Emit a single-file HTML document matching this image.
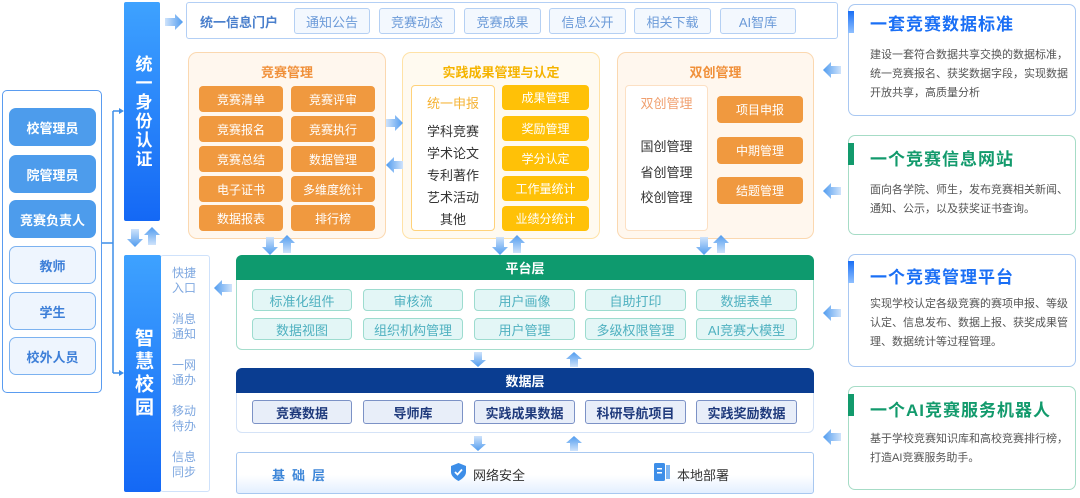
<!DOCTYPE html>
<html><head><meta charset="utf-8">
<style>
*{margin:0;padding:0;box-sizing:border-box}
body{width:1080px;height:498px;background:#fff;position:relative;overflow:hidden;font-family:"Liberation Sans","Noto Sans CJK SC",sans-serif}
.a{position:absolute}
.c{display:flex;align-items:center;justify-content:center;text-align:center}
.ub{border-radius:7px;font-size:13px;font-weight:bold}
.ob{background:#f0993f;color:#fff;border-radius:4px;font-size:12px}
.yb{background:#ffc107;color:#fff;border-radius:4px;font-size:12px}
.tab{border:1px solid #b5d0f3;background:#f3f8fe;color:#6b9ad8;border-radius:3px;font-size:13px}
.pl{border:1px solid #9ddccf;background:#e3f6f6;color:#4fb1c0;border-radius:4px;font-size:13px}
.dl{border:1px solid #7c92c6;background:#e8eef9;color:#1f3a7c;border-radius:3px;font-size:13px;font-weight:bold}
.card{border-radius:7px;background:#fff}
.ct{font-size:17px;font-weight:bold;letter-spacing:1px}
.cb{font-size:11px;color:#555;line-height:19px}
.bar{width:6px;height:22px}
</style></head><body>

<!-- left users panel -->
<div class="a" style="left:2px;top:90px;width:100px;height:303px;border:1.5px solid #5a9cf0;border-radius:5px"></div>
<div class="a c ub" style="left:9px;top:108px;width:87px;height:38px;background:#4d9cec;color:#fff">校管理员</div>
<div class="a c ub" style="left:9px;top:155px;width:87px;height:38px;background:#4d9cec;color:#fff">院管理员</div>
<div class="a c ub" style="left:9px;top:200px;width:87px;height:38px;background:#4d9cec;color:#fff">竞赛负责人</div>
<div class="a c ub" style="left:9px;top:246px;width:87px;height:38px;background:#eef5fe;border:1.5px solid #7cb2f0;color:#3d7fd8">教师</div>
<div class="a c ub" style="left:9px;top:292px;width:87px;height:38px;background:#eef5fe;border:1.5px solid #7cb2f0;color:#3d7fd8">学生</div>
<div class="a c ub" style="left:9px;top:337px;width:87px;height:38px;background:#eef5fe;border:1.5px solid #7cb2f0;color:#3d7fd8">校外人员</div>

<!-- identity -->
<div class="a c" style="left:124px;top:2px;width:36px;height:219px;background:linear-gradient(#3ea2ff,#1468f5);border-radius:2px;color:#fff;font-size:17px;font-weight:bold;writing-mode:vertical-rl;letter-spacing:2px">统一身份认证</div>
<!-- smart campus -->
<div class="a" style="left:160px;top:255px;width:50px;height:237px;border:1px solid #cfe2fb;border-radius:3px;background:#fff"></div>
<div class="a c" style="left:124px;top:255px;width:37px;height:237px;background:linear-gradient(#3ea2ff,#1468f5);border-radius:2px;color:#fff;font-size:19px;font-weight:bold;writing-mode:vertical-rl;letter-spacing:4px">智慧校园</div>
<div class="a" style="left:172px;top:266px;font-size:12px;color:#7fa8e0;line-height:15px;width:30px">快捷入口</div>
<div class="a" style="left:172px;top:312px;font-size:12px;color:#7fa8e0;line-height:15px;width:30px">消息通知</div>
<div class="a" style="left:172px;top:358px;font-size:12px;color:#7fa8e0;line-height:15px;width:30px">一网通办</div>
<div class="a" style="left:172px;top:404px;font-size:12px;color:#7fa8e0;line-height:15px;width:30px">移动待办</div>
<div class="a" style="left:172px;top:450px;font-size:12px;color:#7fa8e0;line-height:15px;width:30px">信息同步</div>

<!-- portal -->
<div class="a" style="left:186px;top:2px;width:652px;height:37px;border:1.5px solid #b3cff5;border-radius:3px"></div>
<div class="a" style="left:200px;top:12px;font-size:13px;font-weight:bold;color:#4a7fcc">统一信息门户</div>
<div class="a c tab" style="left:294px;top:8px;width:76px;height:26px">通知公告</div>
<div class="a c tab" style="left:379px;top:8px;width:76px;height:26px">竞赛动态</div>
<div class="a c tab" style="left:464px;top:8px;width:77px;height:26px">竞赛成果</div>
<div class="a c tab" style="left:549px;top:8px;width:77px;height:26px">信息公开</div>
<div class="a c tab" style="left:634px;top:8px;width:77px;height:26px">相关下载</div>
<div class="a c tab" style="left:720px;top:8px;width:76px;height:26px">AI智库</div>

<!-- 竞赛管理 -->
<div class="a" style="left:188px;top:52px;width:198px;height:187px;background:#fff7ee;border:1.5px solid #fbd8b0;border-radius:9px"></div>
<div class="a c" style="left:188px;top:62px;width:198px;font-size:13px;font-weight:bold;color:#f0903a">竞赛管理</div>
<div class="a c ob" style="left:199px;top:86px;width:84px;height:26px">竞赛清单</div>
<div class="a c ob" style="left:291px;top:86px;width:84px;height:26px">竞赛评审</div>
<div class="a c ob" style="left:199px;top:116px;width:84px;height:26px">竞赛报名</div>
<div class="a c ob" style="left:291px;top:116px;width:84px;height:26px">竞赛执行</div>
<div class="a c ob" style="left:199px;top:146px;width:84px;height:26px">竞赛总结</div>
<div class="a c ob" style="left:291px;top:146px;width:84px;height:26px">数据管理</div>
<div class="a c ob" style="left:199px;top:176px;width:84px;height:26px">电子证书</div>
<div class="a c ob" style="left:291px;top:176px;width:84px;height:26px">多维度统计</div>
<div class="a c ob" style="left:199px;top:205px;width:84px;height:26px">数据报表</div>
<div class="a c ob" style="left:291px;top:205px;width:84px;height:26px">排行榜</div>

<!-- 实践成果 -->
<div class="a" style="left:402px;top:52px;width:198px;height:187px;background:#fffaf0;border:1.5px solid #ffe2a6;border-radius:9px"></div>
<div class="a c" style="left:402px;top:62px;width:198px;font-size:13px;font-weight:bold;color:#f5b400">实践成果管理与认定</div>
<div class="a" style="left:411px;top:85px;width:84px;height:146px;background:#fff;border:1.5px solid #ffd27a;border-radius:4px"></div>
<div class="a c" style="left:411px;top:93px;width:84px;font-size:13px;color:#f5b335">统一申报</div>
<div class="a c" style="left:411px;top:121px;width:84px;font-size:13px;color:#333;line-height:22px;flex-direction:column">学科竞赛<br>学术论文<br>专利著作<br>艺术活动<br>其他</div>
<div class="a c yb" style="left:502px;top:85px;width:87px;height:25px">成果管理</div>
<div class="a c yb" style="left:502px;top:116px;width:87px;height:25px">奖励管理</div>
<div class="a c yb" style="left:502px;top:146px;width:87px;height:25px">学分认定</div>
<div class="a c yb" style="left:502px;top:176px;width:87px;height:25px">工作量统计</div>
<div class="a c yb" style="left:502px;top:206px;width:87px;height:25px">业绩分统计</div>

<!-- 双创 -->
<div class="a" style="left:617px;top:52px;width:197px;height:187px;background:#fff7ee;border:1.5px solid #fbd8b0;border-radius:9px"></div>
<div class="a c" style="left:617px;top:62px;width:197px;font-size:13px;font-weight:bold;color:#f0903a">双创管理</div>
<div class="a" style="left:625px;top:85px;width:83px;height:146px;background:#fff;border:1.5px solid #fce0c4;border-radius:4px"></div>
<div class="a c" style="left:625px;top:93px;width:83px;font-size:13px;color:#f0a070">双创管理</div>
<div class="a c" style="left:625px;top:134px;width:83px;font-size:13px;color:#333;line-height:25.5px;flex-direction:column">国创管理<br>省创管理<br>校创管理</div>
<div class="a c ob" style="left:717px;top:96px;width:86px;height:27px">项目申报</div>
<div class="a c ob" style="left:717px;top:137px;width:86px;height:27px">中期管理</div>
<div class="a c ob" style="left:717px;top:177px;width:86px;height:27px">结题管理</div>

<!-- 平台层 -->
<div class="a" style="left:236px;top:255px;width:578px;height:95px;border:1.5px solid #a5ddcc;border-radius:6px;background:#fff"></div>
<div class="a c" style="left:236px;top:255px;width:578px;height:25px;background:#0e9a6e;border-radius:6px 6px 0 0;color:#fff;font-size:13px;font-weight:bold">平台层</div>
<div class="a c pl" style="left:252px;top:289px;width:100px;height:22px">标准化组件</div>
<div class="a c pl" style="left:363px;top:289px;width:100px;height:22px">审核流</div>
<div class="a c pl" style="left:474px;top:289px;width:101px;height:22px">用户画像</div>
<div class="a c pl" style="left:585px;top:289px;width:101px;height:22px">自助打印</div>
<div class="a c pl" style="left:696px;top:289px;width:101px;height:22px">数据表单</div>
<div class="a c pl" style="left:252px;top:318px;width:100px;height:22px">数据视图</div>
<div class="a c pl" style="left:363px;top:318px;width:100px;height:22px">组织机构管理</div>
<div class="a c pl" style="left:474px;top:318px;width:101px;height:22px">用户管理</div>
<div class="a c pl" style="left:585px;top:318px;width:101px;height:22px">多级权限管理</div>
<div class="a c pl" style="left:696px;top:318px;width:101px;height:22px">AI竞赛大模型</div>

<!-- 数据层 -->
<div class="a" style="left:236px;top:368px;width:578px;height:65px;border:1.5px solid #d5e3f7;border-radius:6px;background:#fff"></div>
<div class="a c" style="left:236px;top:368px;width:578px;height:25px;background:#0a3d91;border-radius:6px 6px 0 0;color:#fff;font-size:13px;font-weight:bold">数据层</div>
<div class="a c dl" style="left:252px;top:400px;width:100px;height:24px">竞赛数据</div>
<div class="a c dl" style="left:363px;top:400px;width:100px;height:24px">导师库</div>
<div class="a c dl" style="left:474px;top:400px;width:101px;height:24px">实践成果数据</div>
<div class="a c dl" style="left:585px;top:400px;width:101px;height:24px">科研导航项目</div>
<div class="a c dl" style="left:696px;top:400px;width:101px;height:24px">实践奖励数据</div>

<!-- 基础层 -->
<div class="a" style="left:236px;top:452px;width:578px;height:42px;border:1.5px solid #a8c8f0;border-radius:3px;background:linear-gradient(#fff 55%,#e3efff)"></div>
<div class="a" style="left:272px;top:465px;font-size:13px;font-weight:bold;color:#3d86d8;letter-spacing:7px">基础层</div>
<svg class="a" style="left:451px;top:463px" width="15" height="18" viewBox="0 0 15 18"><path d="M7.5 0 L15 3 V9 C15 13 11 16 7.5 18 C4 16 0 13 0 9 V3Z" fill="#3d8ee8"/><path d="M4 9 L6.5 11.5 L11 6.5" stroke="#fff" stroke-width="1.8" fill="none"/></svg>
<div class="a" style="left:473px;top:465px;font-size:13px;color:#333">网络安全</div>
<svg class="a" style="left:654px;top:463px" width="16" height="18"><rect x="0" y="0" width="11" height="18" rx="1.5" fill="#3d8ee8"/><rect x="12" y="2" width="4" height="14" fill="#7fb6f2"/><rect x="3" y="5" width="5" height="1.5" fill="#fff"/><rect x="3" y="9" width="5" height="1.5" fill="#fff"/></svg>
<div class="a" style="left:677px;top:465px;font-size:13px;color:#333">本地部署</div>

<!-- right cards -->
<div class="a card" style="left:848px;top:4px;width:228px;height:112px;border:1.5px solid #a9c8f2"></div>
<div class="a bar" style="left:848px;top:11px;background:linear-gradient(#1a6ff5,#8fc0ff)"></div>
<div class="a ct" style="left:870px;top:10px;color:#1a6ff5">一套竞赛数据标准</div>
<div class="a cb" style="left:870px;top:46px;width:205px">建设一套符合数据共享交换的数据标准，统一竞赛报名、获奖数据字段，实现数据开放共享，高质量分析</div>

<div class="a card" style="left:848px;top:135px;width:228px;height:100px;border:1.5px solid #a6dcc6"></div>
<div class="a bar" style="left:848px;top:143px;background:#129a6c"></div>
<div class="a ct" style="left:870px;top:145px;color:#129a6c">一个竞赛信息网站</div>
<div class="a cb" style="left:870px;top:181px;width:205px">面向各学院、师生，发布竞赛相关新闻、通知、公示，以及获奖证书查询。</div>

<div class="a card" style="left:848px;top:254px;width:228px;height:113px;border:1.5px solid #a9c8f2"></div>
<div class="a bar" style="left:848px;top:261px;background:linear-gradient(#1a6ff5,#8fc0ff)"></div>
<div class="a ct" style="left:870px;top:263px;color:#1a6ff5">一个竞赛管理平台</div>
<div class="a cb" style="left:870px;top:295px;width:205px">实现学校认定各级竞赛的赛项申报、等级认定、信息发布、数据上报、获奖成果管理、数据统计等过程管理。</div>

<div class="a card" style="left:848px;top:386px;width:228px;height:104px;border:1.5px solid #a6dcc6"></div>
<div class="a bar" style="left:848px;top:394px;background:#129a6c"></div>
<div class="a ct" style="left:870px;top:396px;color:#129a6c">一个AI竞赛服务机器人</div>
<div class="a cb" style="left:870px;top:430px;width:205px">基于学校竞赛知识库和高校竞赛排行榜，打造AI竞赛服务助手。</div>

<!-- arrows & connectors -->
<svg class="a" style="left:0;top:0" width="1080" height="498">
<defs>
<linearGradient id="gd" x1="0" y1="0" x2="0" y2="1"><stop offset="0" stop-color="#cfe3fb"/><stop offset="1" stop-color="#4f9bef"/></linearGradient>
<linearGradient id="gu" x1="0" y1="1" x2="0" y2="0"><stop offset="0" stop-color="#cfe3fb"/><stop offset="1" stop-color="#4f9bef"/></linearGradient>
<linearGradient id="gr" x1="0" y1="0" x2="1" y2="0"><stop offset="0" stop-color="#cfe3fb"/><stop offset="1" stop-color="#4f9bef"/></linearGradient>
<linearGradient id="gl" x1="1" y1="0" x2="0" y2="0"><stop offset="0" stop-color="#cfe3fb"/><stop offset="1" stop-color="#4f9bef"/></linearGradient>
</defs>
<!-- connector line -->
<path d="M102 243 H113 M113 111 V373" stroke="#3d8ee8" stroke-width="1.5" fill="none"/>
<path d="M113 111 H121" stroke="#3d8ee8" stroke-width="1.5"/><path d="M124 111 l-5 -3 v6z" fill="#3d8ee8"/>
<path d="M113 373 H121" stroke="#3d8ee8" stroke-width="1.5"/><path d="M124 373 l-5 -3 v6z" fill="#3d8ee8"/>
<!-- down arrow template: shaft then head -->
<g id="dn">
<path d="M131 229 h8 v10 h4 l-8 8 l-8 -8 h4z" fill="url(#gd)"/>
<path d="M148 245 h8 v-10 h4 l-8 -8 l-8 8 h4z" fill="url(#gu)"/>
<path d="M266 237 h8 v10 h4 l-8 8 l-8 -8 h4z" fill="url(#gd)"/>
<path d="M283 253 h8 v-10 h4 l-8 -8 l-8 8 h4z" fill="url(#gu)"/>
<path d="M496 237 h8 v10 h4 l-8 8 l-8 -8 h4z" fill="url(#gd)"/>
<path d="M513 253 h8 v-10 h4 l-8 -8 l-8 8 h4z" fill="url(#gu)"/>
<path d="M700 237 h8 v10 h4 l-8 8 l-8 -8 h4z" fill="url(#gd)"/>
<path d="M717 253 h8 v-10 h4 l-8 -8 l-8 8 h4z" fill="url(#gu)"/>
<path d="M474 352 h8 v8 h4 l-8 7 l-8 -7 h4z" fill="url(#gd)"/>
<path d="M570 367 h8 v-8 h4 l-8 -7 l-8 7 h4z" fill="url(#gu)"/>
<path d="M474 436 h8 v8 h4 l-8 7 l-8 -7 h4z" fill="url(#gd)"/>
<path d="M570 451 h8 v-8 h4 l-8 -7 l-8 7 h4z" fill="url(#gu)"/>
</g>
<!-- right arrows -->
<path d="M165 18 h10 v-4 l8 8 l-8 8 v-4 h-10z" fill="url(#gr)"/>
<path d="M386 119 h9 v-4 l8 8 l-8 8 v-4 h-9z" fill="url(#gr)"/>
<path d="M403 161 h-9 v-4 l-8 8 l8 8 v-4 h9z" fill="url(#gl)"/>
<path d="M232 284 h-10 v-4 l-8 8 l8 8 v-4 h10z" fill="url(#gl)"/>
<path d="M841 66 h-10 v-4 l-8 8 l8 8 v-4 h10z" fill="url(#gl)"/>
<path d="M841 187 h-10 v-4 l-8 8 l8 8 v-4 h10z" fill="url(#gl)"/>
<path d="M841 309 h-10 v-4 l-8 8 l8 8 v-4 h10z" fill="url(#gl)"/>
<path d="M841 433 h-10 v-4 l-8 8 l8 8 v-4 h10z" fill="url(#gl)"/>
</svg>
</body></html>
